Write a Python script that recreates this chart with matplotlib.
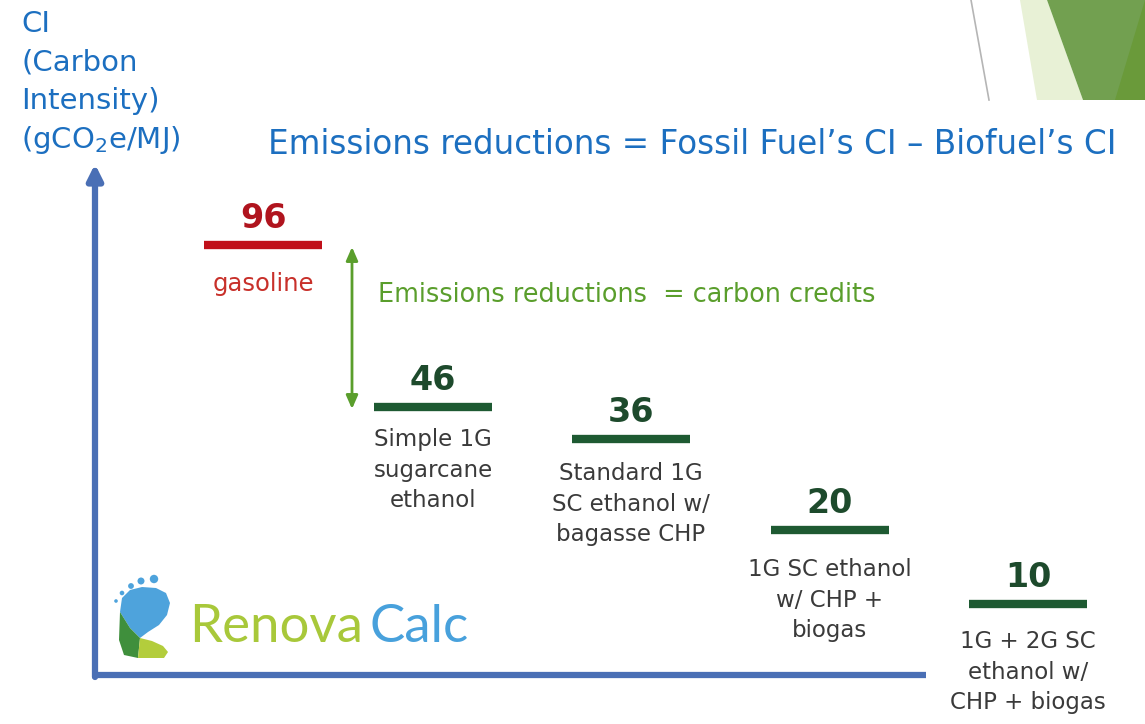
import matplotlib.pyplot as plt
from matplotlib.patches import Polygon, Circle

# chart data
fuels = ["gasoline", "Simple 1G\nsugarcane\nethanol", "Standard 1G\nSC ethanol w/\nbagasse CHP",
         "1G SC ethanol\nw/ CHP +\nbiogas", "1G + 2G SC\nethanol w/\nCHP + biogas"]
ci_values = [96, 46, 36, 20, 10]
title = "Emissions reductions = Fossil Fuel\u2019s CI \u2013 Biofuel\u2019s CI"
ylabel_lines = ["CI", "(Carbon", "Intensity)", "(gCO$_2$e/MJ)"]
credit_text = "Emissions reductions  = carbon credits"

# layout (pixel-like canvas coordinates, the original is a schematic, not to scale)
W, H = 1145, 724
x_centers = [263, 433, 631, 830, 1028]
y_levels = [245, 407, 439, 530, 604]
label_gap = [27, 21, 23, 28, 26]
bar_half = 59

BLUE = "#1c6fc0"
AXIS = "#4a6fb5"
RED_BAR = "#c0101a"
RED_TXT = "#c8302a"
GREEN_BAR = "#1e5a32"
GREEN_NUM = "#1d4a2c"
ARROW_GREEN = "#5a9e2c"
GRAY = "#3a3a3a"

fig = plt.figure(figsize=(W / 100, H / 100), dpi=100)
ax = fig.add_axes([0, 0, 1, 1])
ax.set_xlim(0, W)
ax.set_ylim(H, 0)
ax.axis("off")

# top-right slide decoration
ax.plot([971, 989], [0, 100], color="#b5b5b5", lw=1.2)
ax.add_patch(Polygon([(1020, 0), (1047, 0), (1083, 100), (1037, 100)], closed=True,
                     fc="#e8f1d6", ec="none"))
ax.add_patch(Polygon([(1047, 0), (1145, 0), (1145, 100), (1083, 100)], closed=True,
                     fc="#72a050", ec="none"))
ax.add_patch(Polygon([(1145, 0), (1145, 100), (1115, 100)], closed=True,
                     fc="#6a9a3a", ec="none"))

# axis label
for i, line in enumerate(ylabel_lines):
    ax.text(21, 32 + i * 38.5, line, color=BLUE, fontsize=21, ha="left", va="baseline")

ax.text(268, 154, title, color=BLUE, fontsize=23.5, ha="left", va="baseline")

# axes
ax.annotate("", xy=(95, 164), xytext=(95, 677),
            arrowprops=dict(arrowstyle="-|>,head_length=0.9,head_width=0.45",
                            lw=4.5, color=AXIS, shrinkA=0, shrinkB=0))
ax.plot([92, 926], [675, 675], color=AXIS, lw=4.5, solid_capstyle="butt")

# bars, values and labels
for i, (name, val) in enumerate(zip(fuels, ci_values)):
    xc, yl = x_centers[i], y_levels[i]
    bar_c = RED_BAR if i == 0 else GREEN_BAR
    num_c = "#b0141e" if i == 0 else GREEN_NUM
    lab_c = RED_TXT if i == 0 else GRAY
    ax.hlines(yl, xc - bar_half, xc + bar_half, color=bar_c, lw=6)
    ax.text(xc, yl - 17, str(val), color=num_c, fontsize=24, fontweight="bold",
            ha="center", va="baseline")
    ax.text(xc, yl + label_gap[i], name, color=lab_c, fontsize=16.5 if i else 17.5,
            ha="center", va="top", linespacing=1.42)

# emissions reduction double arrow
ax.annotate("", xy=(352, 247), xytext=(352, 409),
            arrowprops=dict(arrowstyle="<|-|>,head_length=0.8,head_width=0.35",
                            lw=2, color=ARROW_GREEN, shrinkA=0, shrinkB=0))
ax.text(378, 302, credit_text, color=ARROW_GREEN, fontsize=18.4, ha="left", va="baseline")

# RenovaCalc logo
ax.add_patch(Polygon([(120, 612), (122, 598), (130, 590), (142, 587), (156, 588), (166, 593),
                      (170, 603), (167, 615), (159, 625), (148, 632), (140, 638), (130, 628)],
                     closed=True, fc="#4ea3dc", ec="none"))
ax.add_patch(Polygon([(120, 612), (130, 628), (140, 638), (138, 658), (124, 655), (119, 640)],
                     closed=True, fc="#3f8f3c", ec="none"))
ax.add_patch(Polygon([(140, 638), (152, 641), (163, 646), (168, 652), (164, 658), (138, 658)],
                     closed=True, fc="#b3cd3c", ec="none"))
for (cx, cy), r in zip([(116, 601), (122, 593), (131, 586), (141, 581), (154, 579)],
                       [1.8, 2.3, 2.9, 3.5, 4.2]):
    ax.add_patch(Circle((cx, cy), r, fc="#4ea3dc", ec="none"))
ax.text(189, 642, "Renova", color="#a8c83a", fontsize=38, family="Lato",
        ha="left", va="baseline")
ax.text(369, 642, "Calc", color="#48a1dc", fontsize=38, family="Lato",
        ha="left", va="baseline")

fig.savefig("out.png", dpi=100)
